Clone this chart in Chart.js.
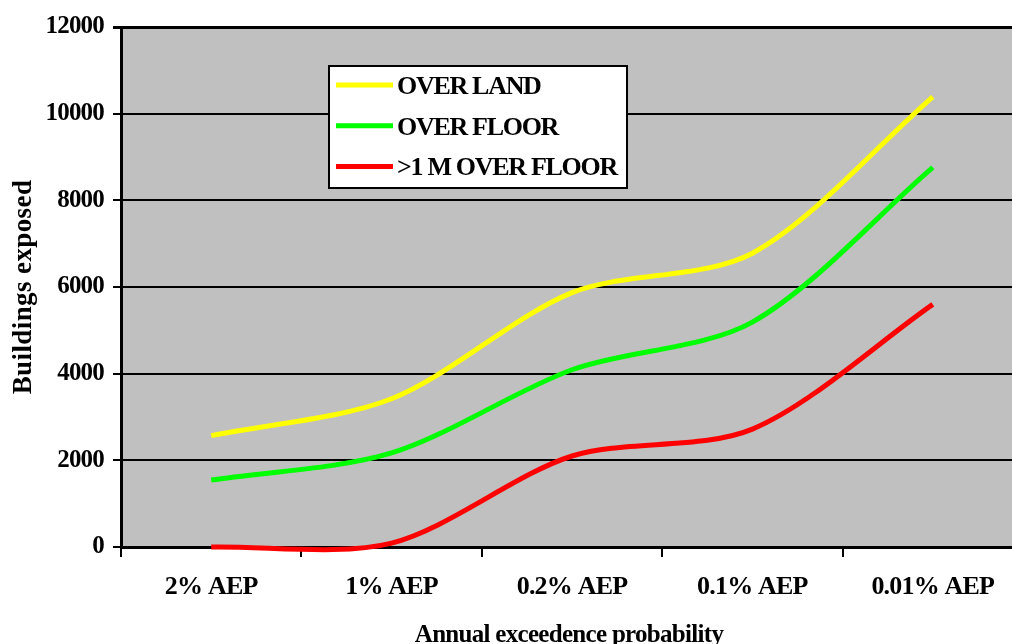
<!DOCTYPE html>
<html>
<head>
<meta charset="utf-8">
<script src="https://cdn.jsdelivr.net/npm/chart.js@4/dist/chart.umd.min.js"></script>
<style>
  html, body { margin: 0; padding: 0; background: #ffffff; overflow: hidden; }
  #wrap { width: 1012px; height: 644px; overflow: hidden; }
  canvas { display: block; }
</style>
</head>
<body>
<div id="wrap"><canvas id="chart" width="1040" height="644"></canvas></div>
<script>
// Flood exposure by annual exceedence probability
const categories = ['2% AEP', '1% AEP', '0.2% AEP', '0.1% AEP', '0.01% AEP'];
const overLand = [2570, 3420, 5870, 6780, 10390];
const overFloor = [1546, 2170, 4090, 5190, 8760];
const overFloor1m = [0, 90, 2100, 2720, 5600];
const seriesNames = ['OVER LAND', 'OVER FLOOR', '>1 M OVER FLOOR'];
const seriesColors = ['#ffff00', '#00ff00', '#ff0000'];
const yTicks = [0, 2000, 4000, 6000, 8000, 10000, 12000];
const yTitle = 'Buildings exposed';
const xTitle = 'Annual exceedence probability';

const FONT = '"Liberation Serif", "Times New Roman", serif';

const plotBackground = {
  id: 'plotBackground',
  beforeDraw(chart) {
    const { ctx, chartArea } = chart;
    ctx.letterSpacing = '-0.8px';
    ctx.save();
    ctx.fillStyle = '#c0c0c0';
    ctx.fillRect(chartArea.left, chartArea.top, chart.width - chartArea.left, chartArea.bottom - chartArea.top);
    ctx.restore();
  }
};

const axisTitles = {
  id: 'axisTitles',
  afterDraw(chart) {
    const { ctx, chartArea } = chart;
    ctx.save();
    ctx.fillStyle = '#000';
    ctx.font = 'bold 27px ' + FONT;
    ctx.letterSpacing = '0.4px';
    ctx.textAlign = 'center';
    ctx.textBaseline = 'middle';
    ctx.translate(24, (chartArea.top + chartArea.bottom) / 2);
    ctx.rotate(-Math.PI / 2);
    ctx.fillText(yTitle, 0, 0);
    ctx.restore();

    ctx.save();
    ctx.fillStyle = '#000';
    ctx.font = 'bold 25px ' + FONT;
    ctx.letterSpacing = '-0.7px';
    ctx.textAlign = 'center';
    ctx.textBaseline = 'alphabetic';
    const xs = chart.scales.x;
    const mid = (xs.getPixelForValue(0) + xs.getPixelForValue(categories.length - 1)) / 2;
    ctx.fillText(xTitle, mid - 3, 642);
    ctx.restore();
  }
};

const boxLegend = {
  id: 'boxLegend',
  afterDatasetsDraw(chart) {
    const { ctx } = chart;
    const box = { x: 329, y: 66, w: 298, h: 122 };
    ctx.save();
    ctx.fillStyle = '#ffffff';
    ctx.fillRect(box.x, box.y, box.w, box.h);
    ctx.strokeStyle = '#000';
    ctx.lineWidth = 2;
    ctx.strokeRect(box.x, box.y, box.w, box.h);
    ctx.font = 'bold 26px ' + FONT;
    ctx.letterSpacing = '-1.3px';
    ctx.textBaseline = 'alphabetic';
    ctx.textAlign = 'left';
    chart.data.datasets.forEach((ds, i) => {
      const cy = 85 + i * 40.7;
      ctx.strokeStyle = ds.borderColor;
      ctx.lineWidth = 5;
      ctx.beginPath();
      ctx.moveTo(336, cy);
      ctx.lineTo(393, cy);
      ctx.stroke();
      ctx.fillStyle = '#000';
      ctx.fillText(ds.label, 397, cy + 9);
    });
    ctx.restore();
  }
};

const seriesValues = [overLand, overFloor, overFloor1m];

new Chart(document.getElementById('chart'), {
  type: 'line',
  data: {
    labels: categories,
    datasets: seriesNames.map((name, i) => ({
      label: name,
      data: seriesValues[i],
      borderColor: seriesColors[i],
      backgroundColor: seriesColors[i],
      borderWidth: 5,
      pointRadius: 0,
      tension: 0.3,
      fill: false,
      clip: false
    }))
  },
  options: {
    responsive: false,
    animation: false,
    devicePixelRatio: 1,
    layout: { padding: { top: 27, right: 17, left: 0, bottom: 0 } },
    elements: { line: { capBezierPoints: false, borderCapStyle: 'butt' } },
    plugins: {
      legend: { display: false },
      tooltip: { enabled: false }
    },
    scales: {
      x: {
        type: 'category',
        offset: true,
        grid: {
          offset: true,
          drawOnChartArea: false,
          drawTicks: true,
          tickLength: 10,
          color: '#000',
          lineWidth: 2
        },
        border: { display: true, color: '#000', width: 3 },
        ticks: {
          color: '#000',
          font: { family: FONT, size: 26, weight: 'bold' },
          padding: 15,
          maxRotation: 0,
          autoSkip: false
        },
        afterFit(scale) { scale.height = 97; }
      },
      y: {
        min: 0,
        max: 12000,
        afterBuildTicks(scale) { scale.ticks = yTicks.map(v => ({ value: v })); },
        grid: {
          color: '#000',
          lineWidth: ctx => (ctx.tick && ctx.tick.value === 12000 ? 3 : 2),
          tickLength: 8
        },
        border: { display: true, color: '#000', width: 3 },
        ticks: {
          color: '#000',
          font: { family: FONT, size: 25, weight: 'bold' },
          padding: 9,
          callback: v => String(v)
        },
        afterFit(scale) { scale.width = 121; }
      }
    }
  },
  plugins: [plotBackground, boxLegend, axisTitles]
});
</script>
</body>
</html>
